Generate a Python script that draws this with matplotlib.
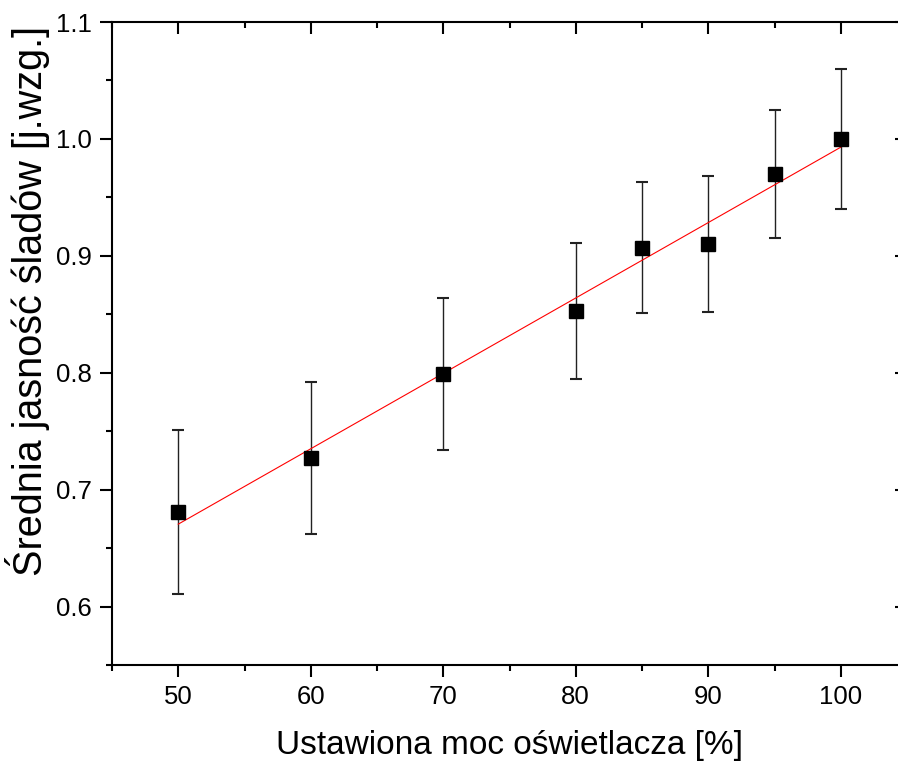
import numpy as np
import matplotlib
matplotlib.use("Agg")
import matplotlib.pyplot as plt
from matplotlib.ticker import MultipleLocator

plt.rcParams['font.family'] = ['Liberation Sans', 'DejaVu Sans']

power = [50, 60, 70, 80, 85, 90, 95, 100]
brightness = [0.681, 0.727, 0.799, 0.853, 0.907, 0.910, 0.970, 1.000]
errors = [0.070, 0.065, 0.065, 0.058, 0.056, 0.058, 0.055, 0.060]
xticks = [50, 60, 70, 80, 90, 100]
yticks = [0.6, 0.7, 0.8, 0.9, 1.0, 1.1]

W, H = 898, 765
fig = plt.figure(figsize=(W / 100, H / 100), dpi=100)
ax = fig.add_axes([112 / W, 1 - 665 / H, (907 - 112) / W, (665 - 22) / H])

ax.errorbar(power, brightness, yerr=errors, fmt='none', ecolor='#222222',
            elinewidth=1.0, capsize=4.3, capthick=1.5, zorder=2)
ax.plot(power, brightness, 's', color='black', markersize=10, zorder=3)

slope, intercept = np.polyfit(power, brightness, 1)
xf = np.array([min(power), max(power)])
ax.plot(xf, slope * xf + intercept, color='red', linewidth=0.8, zorder=2.5)

ax.set_xlim(45, 105)
ax.set_ylim(0.55, 1.1)
ax.set_xticks(xticks)
ax.set_yticks(yticks)
ax.set_yticklabels([f"{v:.1f}" for v in yticks])
ax.xaxis.set_minor_locator(MultipleLocator(5))
ax.yaxis.set_minor_locator(MultipleLocator(0.05))

ax.spines['right'].set_visible(False)
for s in ['left', 'bottom', 'top']:
    ax.spines[s].set_linewidth(1.5)

ax.tick_params(axis='x', which='major', direction='out', length=8.6, width=1.5,
               labelsize=18.5, top=True, pad=6)
ax.tick_params(axis='x', which='minor', direction='out', length=4.3, width=1.5, top=True)
ax.tick_params(axis='y', which='major', direction='out', length=8.6, width=1.5,
               labelsize=18.5, right=True, pad=6)
ax.tick_params(axis='y', which='minor', direction='out', length=4.3, width=1.5, right=False)
for t in ax.xaxis.get_major_ticks() + ax.xaxis.get_minor_ticks():
    t.tick2line.set_marker(3)  # inward on top
for t in ax.yaxis.get_major_ticks():
    t.tick2line.set_marker(0)

ax.set_xlabel('Ustawiona moc oświetlacza [%]', fontsize=24, labelpad=15)
ax.set_ylabel('Średnia jasność śladów [j.wzg.]', fontsize=28.5)
ax.yaxis.set_label_coords(-0.106, 0.566)
ax.yaxis.label.set_verticalalignment('center')

fig.savefig('out.png', dpi=100)
